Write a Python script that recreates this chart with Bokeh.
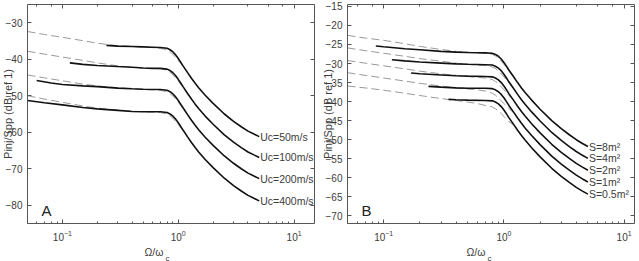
from bokeh.plotting import figure
from bokeh.layouts import row
from bokeh.models import (Range1d, FixedTicker, LinearAxis, LogAxis, LogTicker, Label,
                          Title, ColumnDataSource)
from bokeh.core.properties import value
from bokeh.embed import file_html
from bokeh.resources import INLINE

FONT = "Liberation Sans"
TEXT_COLOR = "#3c3c3c"
AXIS_COLOR = "#555555"
MEAS_COLOR = "#111111"
MODEL_COLOR = "#9a9a9a"

# Shared frequency grid (Ω/ωc) for the knee and roll-off of the measured spectra
hf_x = [0.8, 0.85, 0.9, 0.95, 1.0, 1.05, 1.1, 1.2, 1.3, 1.4, 1.5, 1.7, 2.0, 2.5, 3.0, 3.5, 4.0, 4.5, 5.0]
# Frequency grid of the model spectra (dashed)
model_x = [0.05, 0.07, 0.1, 0.15, 0.2, 0.3, 0.4, 0.5, 0.6, 0.7, 0.8, 0.85, 0.9, 0.95, 1.0, 1.1, 1.2]

# ---- Panel A: convection velocity Uc ----
uc_labels = ["Uc=50m/s", "Uc=100m/s", "Uc=200m/s", "Uc=400m/s"]

uc50_x = [0.24, 0.3, 0.4, 0.5, 0.6, 0.7] + hf_x
uc50_y = [-36.2, -36.4, -36.5, -36.6, -36.7, -36.8,
          -37.0, -37.4, -38.0, -38.8, -39.8, -40.8, -41.8, -43.6, -45.2, -46.6,
          -47.8, -49.8, -52.1, -55.0, -57.0, -58.5, -59.7, -60.5, -61.2]
uc100_x = [0.116, 0.15, 0.2, 0.3, 0.4, 0.5, 0.6, 0.7] + hf_x
uc100_y = [-41.0, -41.4, -41.7, -42.0, -42.2, -42.4, -42.5, -42.5,
           -42.7, -43.1, -43.7, -44.5, -45.5, -46.5, -47.5, -49.3, -50.9, -52.3,
           -53.5, -55.5, -57.8, -60.7, -62.7, -64.2, -65.4, -66.2, -66.9]
uc200_x = [0.06, 0.08, 0.1, 0.15, 0.2, 0.3, 0.4, 0.5, 0.7] + hf_x
uc200_y = [-45.8, -46.5, -46.9, -47.3, -47.5, -47.9, -48.1, -48.2, -48.3,
           -48.5, -48.9, -49.5, -50.3, -51.3, -52.3, -53.3, -55.1, -56.7, -58.1,
           -59.3, -61.3, -63.6, -66.5, -68.5, -70.0, -71.2, -72.0, -72.7]
uc400_x = [0.05, 0.07, 0.1, 0.15, 0.2, 0.3, 0.4, 0.5, 0.7] + hf_x
uc400_y = [-51.3, -51.9, -52.5, -53.2, -53.6, -54.0, -54.3, -54.4, -54.4,
           -54.6, -55.0, -55.6, -56.4, -57.4, -58.4, -59.4, -61.2, -62.8, -64.2,
           -65.4, -67.4, -69.7, -72.6, -74.6, -76.1, -77.3, -78.1, -78.8]

uc50_model = [-32.4, -33.2, -34.0, -34.9, -35.6, -36.3, -36.5, -36.7, -36.8,
              -37.0, -37.4, -38.0, -38.7, -39.5, -40.3, -42.0, -43.6]
uc100_model = [-37.8, -38.6, -39.4, -40.3, -41.0, -41.8, -42.2, -42.4, -42.5,
               -42.6, -43.0, -43.6, -44.3, -45.1, -46.0, -47.7, -49.3]
uc200_model = [-44.3, -45.1, -45.9, -46.8, -47.3, -47.8, -48.1, -48.3, -48.4,
               -48.5, -48.9, -49.4, -50.1, -50.9, -51.8, -53.5, -55.1]
uc400_model = [-50.0, -50.9, -51.8, -52.8, -53.4, -53.9, -54.2, -54.4, -54.5,
               -54.6, -55.0, -55.5, -56.2, -57.0, -57.9, -59.6, -61.2]

# ---- Panel B: plate surface S ----
s_labels = ["S=8m²", "S=4m²", "S=2m²", "S=1m²", "S=0.5m²"]

s8_x = [0.086, 0.1, 0.15, 0.2, 0.3, 0.4, 0.5, 0.7] + hf_x
s8_y = [-25.4, -25.6, -26.1, -26.4, -26.8, -27.0, -27.1, -27.2,
        -27.3, -27.6, -28.1, -28.8, -29.7, -30.7, -31.7, -33.4, -35.0, -36.4,
        -37.6, -39.6, -42.0, -45.0, -47.1, -48.7, -50.0, -51.0, -51.8]
s4_x = [0.117, 0.15, 0.2, 0.3, 0.4, 0.5, 0.7] + hf_x
s4_y = [-29.0, -29.3, -29.6, -29.9, -30.1, -30.2, -30.3,
        -30.4, -30.7, -31.2, -31.9, -32.8, -33.8, -34.8, -36.5, -38.1, -39.5,
        -40.7, -42.7, -45.1, -48.1, -50.2, -51.8, -53.1, -54.1, -54.9]
s2_x = [0.169, 0.2, 0.3, 0.4, 0.5, 0.7] + hf_x
s2_y = [-32.5, -32.7, -33.0, -33.2, -33.3, -33.4,
        -33.5, -33.8, -34.3, -35.0, -35.9, -36.9, -37.9, -39.6, -41.2, -42.6,
        -43.8, -45.8, -48.2, -51.2, -53.3, -54.9, -56.2, -57.2, -58.0]
s1_x = [0.236, 0.3, 0.4, 0.5, 0.7] + hf_x
s1_y = [-36.0, -36.2, -36.4, -36.5, -36.5,
        -36.6, -36.9, -37.4, -38.1, -39.0, -40.0, -41.0, -42.7, -44.3, -45.7,
        -46.9, -48.9, -51.3, -54.3, -56.4, -58.0, -59.3, -60.3, -61.1]
s05_x = [0.346, 0.4, 0.5, 0.7] + hf_x
s05_y = [-39.4, -39.5, -39.6, -39.7,
         -39.8, -40.1, -40.6, -41.3, -42.2, -43.2, -44.2, -45.9, -47.5, -48.9,
         -50.1, -52.1, -54.5, -57.5, -59.6, -61.2, -62.5, -63.5, -64.3]

s8_model = [-22.6, -23.3, -23.9, -24.8, -25.5, -26.3, -26.8, -27.0, -27.2,
            -27.3, -27.6, -28.0, -28.6, -29.4, -30.2, -31.9, -33.4]
s4_model = [-25.9, -26.6, -27.3, -28.1, -28.7, -29.4, -29.9, -30.2, -30.4,
            -30.5, -30.9, -31.3, -31.9, -32.7, -33.5, -35.1, -36.5]
s2_model = [-29.2, -29.9, -30.6, -31.4, -32.0, -32.7, -33.1, -33.4, -33.6,
            -33.8, -34.2, -34.7, -35.3, -36.1, -36.9, -38.4, -39.6]
s1_model = [-32.4, -33.1, -33.8, -34.6, -35.2, -35.9, -36.4, -36.7, -36.9,
            -37.2, -37.8, -38.3, -39.0, -39.8, -40.5, -41.8, -42.9]
s05_model = [-35.9, -36.4, -37.0, -37.8, -38.4, -39.2, -39.7, -40.1, -40.5,
             -41.0, -41.4, -41.9, -42.4, -43.1, -43.9, -45.2, -46.1]

a_yticks = [-80, -70, -60, -50, -40, -30]
b_yticks = [-70, -65, -60, -55, -50, -45, -40, -35, -30, -25, -20, -15]


def style_axis(ax, minor=True):
    ax.axis_line_color = AXIS_COLOR
    ax.major_tick_line_color = AXIS_COLOR
    ax.minor_tick_line_color = AXIS_COLOR if minor else None
    ax.major_tick_in = 4
    ax.major_tick_out = 0
    ax.minor_tick_in = 2
    ax.minor_tick_out = 0
    ax.major_label_text_font = FONT
    ax.major_label_text_font_size = "10px"
    ax.major_label_text_color = TEXT_COLOR


def bare_axis(ax):
    # frame-side axis: ticks only, labels invisible and tiny
    ax.major_label_text_font_size = "1px"
    ax.major_label_text_color = None
    ax.major_label_standoff = 0


def make_panel(width, x_end, y_range, y_ticks, right, title_dx,
               curves, models, labels, letter):
    p = figure(width=width, height=261, x_axis_type="log",
               x_range=Range1d(0.05, x_end), y_range=y_range,
               output_backend="svg", toolbar_location=None,
               min_border_left=30, min_border_right=right,
               min_border_top=4, min_border_bottom=31,
               margin=(0, 0, 0, -3))
    p.background_fill_color = "white"
    p.border_fill_color = "white"
    p.outline_line_color = None
    p.grid.visible = False

    xa = p.xaxis[0]
    style_axis(xa)
    xa.major_label_standoff = 6
    ya = p.yaxis[0]
    style_axis(ya, minor=False)
    ya.ticker = FixedTicker(ticks=y_ticks)
    ya.major_label_standoff = 5
    ya.axis_label = "Pinj/Spp (dB ref 1)"
    ya.axis_label_text_font = FONT
    ya.axis_label_text_font_size = "11px"
    ya.axis_label_text_font_style = "normal"
    ya.axis_label_text_color = TEXT_COLOR
    ya.axis_label_standoff = -11

    top = LogAxis(ticker=LogTicker())
    style_axis(top)
    bare_axis(top)
    p.add_layout(top, "above")
    rgt = LinearAxis(ticker=FixedTicker(ticks=y_ticks))
    style_axis(rgt, minor=False)
    bare_axis(rgt)
    p.add_layout(rgt, "right")

    # x-axis title Ω/ω with its subscript c, set under the tick labels
    p.add_layout(Title(text="Ω/ω", align="left", offset=title_dx, vertical_align="top",
                       standoff=4, text_font=FONT, text_font_size="10.5px",
                       text_font_style="normal", text_color=TEXT_COLOR), "below")
    p.add_layout(Title(text="c", align="left", offset=title_dx + 21, vertical_align="top",
                       standoff=-16, text_font=FONT, text_font_size="8px",
                       text_font_style="normal", text_color=TEXT_COLOR), "below")

    for mx, my in models:
        p.line(mx, my, line_color=MODEL_COLOR, line_width=1, line_dash="8 4")
    for cx, cy in curves:
        p.line(cx, cy, line_color=MEAS_COLOR, line_width=1.6)

    src = ColumnDataSource(dict(x=[c[0][-1] for c in curves],
                                y=[c[1][-1] for c in curves],
                                t=labels))
    p.text(x="x", y="y", text="t", source=src, x_offset=1,
           text_font=value(FONT), text_font_size="10.5px",
           text_color=TEXT_COLOR, text_baseline="middle", text_align="left")

    p.add_layout(Label(x=14, y=13, x_units="screen", y_units="screen", text=letter,
                       text_font=FONT, text_font_size="15px", text_color="#222222",
                       text_baseline="alphabetic"))
    return p


pa = make_panel(323, 15, Range1d(-85, -25), a_yticks, 6, 117,
                [(uc50_x, uc50_y), (uc100_x, uc100_y), (uc200_x, uc200_y), (uc400_x, uc400_y)],
                [(model_x, uc50_model), (model_x, uc100_model),
                 (model_x, uc200_model), (model_x, uc400_model)],
                uc_labels, "A")
pb = make_panel(322, 12.2, Range1d(-72, -14.5), b_yticks, 5, 119,
                [(s8_x, s8_y), (s4_x, s4_y), (s2_x, s2_y), (s1_x, s1_y), (s05_x, s05_y)],
                [(model_x, s8_model), (model_x, s4_model), (model_x, s2_model),
                 (model_x, s1_model), (model_x, s05_model)],
                s_labels, "B")

layout = row(pa, pb, spacing=0)
open("out.html", "w").write(file_html(layout, INLINE))
